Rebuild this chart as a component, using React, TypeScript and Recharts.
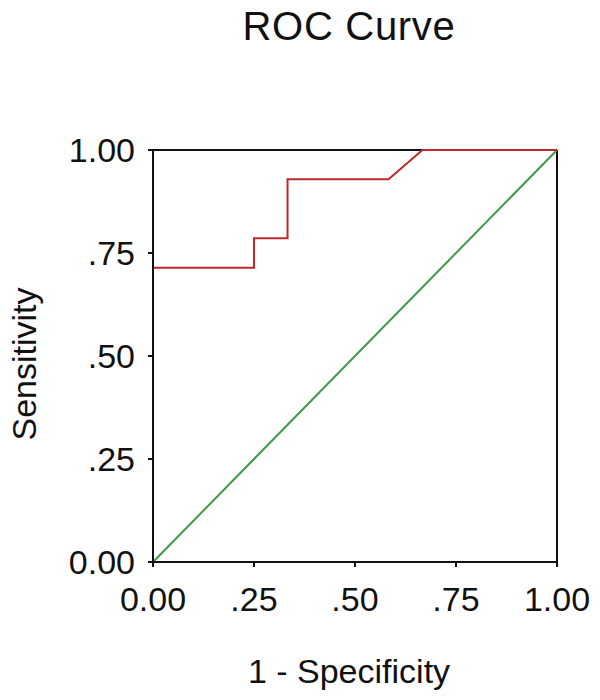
import { LineChart, Line, XAxis, YAxis, ReferenceLine } from "recharts"

// ROC curve points (1 - specificity, sensitivity)
const rocFpr = [0, 0, 0.25, 0.25, 0.333, 0.333, 0.583, 0.667, 1]
const rocTpr = [0, 0.714, 0.714, 0.786, 0.786, 0.929, 0.929, 1, 1]

// reference diagonal
const diagFpr = [0, 1]
const diagTpr = [0, 1]

const tickValues = [0, 0.25, 0.5, 0.75, 1]
const tickLabels = ["0.00", ".25", ".50", ".75", "1.00"]

const rocData = rocFpr.map((x, i) => ({ x, y: rocTpr[i] }))
const diagData = diagFpr.map((x, i) => ({ x, y: diagTpr[i] }))

const FONT = "'Liberation Sans', Arial, Helvetica, sans-serif"
const fmt = (v: number) => tickLabels[tickValues.indexOf(v)] ?? String(v)

export default function App() {
  return (
    <div style={{ position: "absolute", left: 0, top: 0, width: 600, height: 700, background: "#fff", fontFamily: FONT }}>
      <div
        style={{
          position: "absolute",
          left: 98,
          width: 502,
          top: 3,
          textAlign: "center",
          fontSize: 40,
          lineHeight: "46px",
          letterSpacing: 0.7,
          color: "#111",
          whiteSpace: "nowrap",
        }}
      >
        ROC Curve
      </div>
      <LineChart width={600} height={700} data={rocData} margin={{ top: 150, right: 43, bottom: 0, left: 0 }}>
        <ReferenceLine y={1} stroke="#111" strokeWidth={2} />
        <ReferenceLine x={1} stroke="#111" strokeWidth={2} />
        <Line
          data={diagData}
          dataKey="y"
          type="linear"
          stroke="#3d9a47"
          strokeWidth={2}
          dot={false}
          activeDot={false}
          isAnimationActive={false}
        />
        <Line
          data={rocData}
          dataKey="y"
          type="linear"
          stroke="#c0282e"
          strokeWidth={2}
          dot={false}
          activeDot={false}
          isAnimationActive={false}
        />
        <XAxis
          dataKey="x"
          type="number"
          domain={[0, 1]}
          ticks={tickValues}
          tickFormatter={fmt}
          height={138}
          tickSize={5}
          tickMargin={20}
          axisLine={{ stroke: "#111", strokeWidth: 2 }}
          tickLine={{ stroke: "#111", strokeWidth: 2 }}
          tick={{ fontSize: 34, fill: "#111", fontFamily: FONT }}
          interval={0}
          label={{
            content: () => (
              <text x={349} y={683} textAnchor="middle" fontSize={34} fill="#111" fontFamily={FONT}>
                1 - Specificity
              </text>
            ),
          }}
        />
        <YAxis
          type="number"
          domain={[0, 1]}
          ticks={tickValues}
          tickFormatter={fmt}
          width={153}
          tickSize={5}
          tickMargin={13}
          axisLine={{ stroke: "#111", strokeWidth: 2 }}
          tickLine={{ stroke: "#111", strokeWidth: 2 }}
          tick={{ fontSize: 34, fill: "#111", fontFamily: FONT }}
          interval={0}
          label={{
            content: () => (
              <text
                x={36}
                y={364}
                transform="rotate(-90 36 364)"
                textAnchor="middle"
                fontSize={34}
                fill="#111"
                fontFamily={FONT}
              >
                Sensitivity
              </text>
            ),
          }}
        />
      </LineChart>
    </div>
  )
}
